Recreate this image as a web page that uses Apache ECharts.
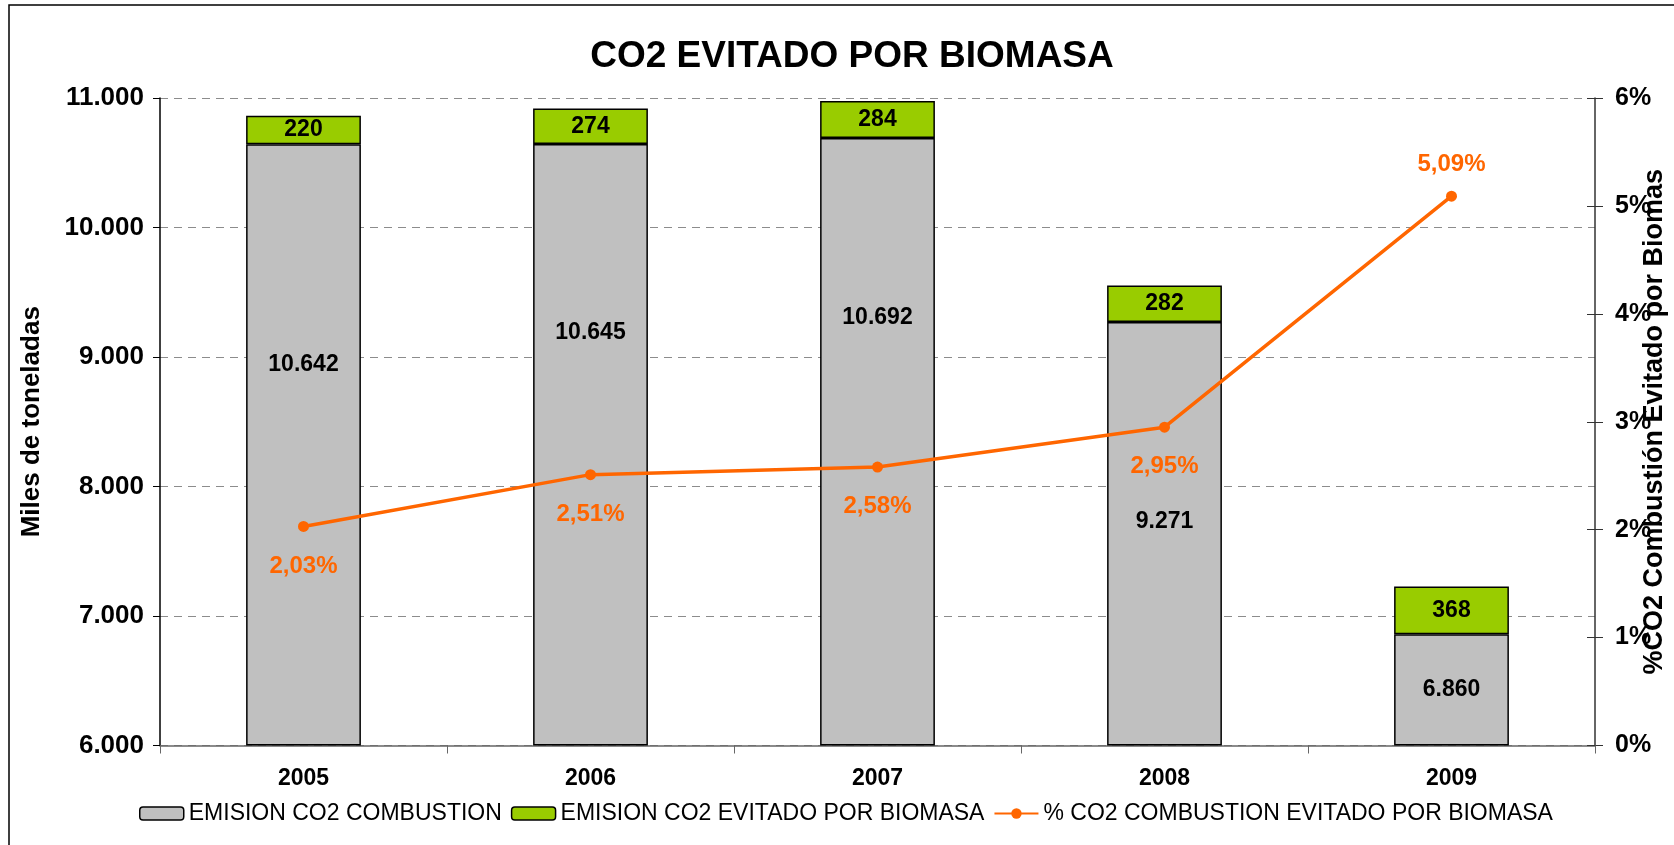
<!DOCTYPE html>
<html>
<head>
<meta charset="utf-8">
<script src="https://cdn.jsdelivr.net/npm/echarts@6/dist/echarts.min.js"></script>
<style>
html,body{margin:0;padding:0;background:#fff;}
#chart{width:1674px;height:845px;}
</style>
</head>
<body>
<div id="chart"></div>
<script>
const years = ['2005', '2006', '2007', '2008', '2009'];
const combustion = [10642, 10645, 10692, 9271, 6860];
const biomasa = [220, 274, 284, 282, 368];
const pctEvitado = [2.03, 2.51, 2.58, 2.95, 5.09];
const leftTicks = [6000, 7000, 8000, 9000, 10000, 11000];
const rightTicks = [0, 1, 2, 3, 4, 5, 6];

const FONT = "'Liberation Sans', Arial, sans-serif";
const thousands = v => String(Math.round(v)).replace(/\B(?=(\d{3})+(?!\d))/g, '.');
const pct = v => v.toFixed(2).replace('.', ',') + '%';

const chart = echarts.init(document.getElementById('chart'), null, {renderer: 'canvas'});

const grayShift = [-80, -112, -124, -12, 0];

const option = {
  backgroundColor: '#ffffff',
  animation: false,
  graphic: [{
    type: 'rect',
    shape: {x: 9, y: 5, width: 1700, height: 900},
    style: {fill: 'none', stroke: '#000', lineWidth: 1.5},
    silent: true
  }],
  title: {
    text: 'CO2 EVITADO POR BIOMASA',
    left: 847,
    top: 33,
    textAlign: 'center',
    textStyle: {fontFamily: FONT, fontSize: 37, fontWeight: 'bold', color: '#000'}
  },
  legend: {
    left: 134,
    top: 797,
    itemWidth: 44,
    itemHeight: 13,
    itemGap: 9,
    textStyle: {fontFamily: FONT, fontSize: 23, color: '#000'},
    data: [
      {name: 'EMISION CO2 COMBUSTION', itemStyle: {borderColor: '#000', borderWidth: 1.5}},
      {name: 'EMISION CO2 EVITADO POR BIOMASA', itemStyle: {borderColor: '#000', borderWidth: 1.5}},
      {name: '% CO2 COMBUSTION EVITADO POR BIOMASA'}
    ]
  },
  grid: {left: 160, right: 79, top: 98, bottom: 99.5, containLabel: false, outerBoundsMode: 'none'},
  xAxis: {
    type: 'category',
    data: years,
    axisLine: {lineStyle: {color: '#666', width: 1.5}},
    axisTick: {show: true, length: 8, lineStyle: {color: '#666'}},
    axisLabel: {fontFamily: FONT, fontSize: 23, fontWeight: 'bold', color: '#000', margin: 22}
  },
  yAxis: [{
    type: 'value',
    min: leftTicks[0],
    max: leftTicks[leftTicks.length - 1],
    interval: 1000,
    startValue: leftTicks[0],
    name: 'Miles de toneladas',
    nameLocation: 'middle',
    nameGap: 115,
    nameRotate: 90,
    nameMoveOverlap: false,
    nameTextStyle: {fontFamily: FONT, fontSize: 26, fontWeight: 'bold', color: '#000'},
    axisLine: {show: true, lineStyle: {color: '#000', width: 1.5}},
    axisTick: {show: true, length: 7, lineStyle: {color: '#000'}},
    axisLabel: {fontFamily: FONT, fontSize: 26, fontWeight: 'bold', color: '#000', margin: 16, formatter: v => thousands(v)},
    splitLine: {show: true, lineStyle: {color: '#8c8c8c', width: 1, type: [8, 6]}}
  }, {
    type: 'value',
    position: 'right',
    min: rightTicks[0],
    max: rightTicks[rightTicks.length - 1],
    interval: 1,
    name: '%CO2 Combustión Evitado por Biomas',
    nameLocation: 'middle',
    nameGap: 46,
    nameRotate: 90,
    nameMoveOverlap: false,
    nameTextStyle: {fontFamily: FONT, fontSize: 27, fontWeight: 'bold', color: '#000'},
    axisLine: {show: true, lineStyle: {color: '#333', width: 1.5}},
    axisTick: {show: true, length: 8, lineStyle: {color: '#333'}},
    axisLabel: {fontFamily: FONT, fontSize: 25, fontWeight: 'bold', color: '#000', margin: 20, formatter: v => v + '%'},
    splitLine: {show: false}
  }, {
    type: 'value',
    position: 'right',
    min: rightTicks[0],
    max: rightTicks[rightTicks.length - 1],
    interval: 1,
    axisLine: {show: false},
    axisTick: {show: true, inside: true, length: 8, lineStyle: {color: '#333'}},
    axisLabel: {show: false},
    splitLine: {show: false}
  }],
  series: [{
    name: 'EMISION CO2 COMBUSTION',
    type: 'bar',
    stack: 'total',
    yAxisIndex: 0,
    barWidth: '40%',
    itemStyle: {color: '#C0C0C0', borderColor: '#000', borderWidth: 1.5},
    data: combustion.map((v, i) => ({
      value: v,
      label: {offset: [0, grayShift[i]]}
    })),
    label: {
      show: true,
      position: 'inside',
      fontFamily: FONT, fontSize: 23, fontWeight: 'bold', color: '#000',
      formatter: p => thousands(p.value)
    },
    z: 2
  }, {
    name: 'EMISION CO2 EVITADO POR BIOMASA',
    type: 'bar',
    stack: 'total',
    yAxisIndex: 0,
    barWidth: '40%',
    itemStyle: {color: '#99CC00', borderColor: '#000', borderWidth: 1.5},
    data: biomasa,
    label: {
      show: true,
      position: 'inside',
      fontFamily: FONT, fontSize: 23, fontWeight: 'bold', color: '#000',
      formatter: p => thousands(p.value)
    },
    z: 2
  }, {
    name: '% CO2 COMBUSTION EVITADO POR BIOMASA',
    type: 'line',
    yAxisIndex: 1,
    data: pctEvitado.map((v, i) => i === pctEvitado.length - 1
      ? {value: v, label: {position: 'top', distance: 14}}
      : {value: v}),
    symbol: 'circle',
    symbolSize: 11,
    lineStyle: {color: '#FF6600', width: 3.5},
    itemStyle: {color: '#FF6600'},
    label: {
      show: true,
      position: 'bottom',
      distance: 22,
      fontFamily: FONT, fontSize: 24, fontWeight: 'bold', color: '#FF6600',
      formatter: p => pct(p.value)
    },
    z: 5
  }]
};

chart.setOption(option);
</script>
</body>
</html>
